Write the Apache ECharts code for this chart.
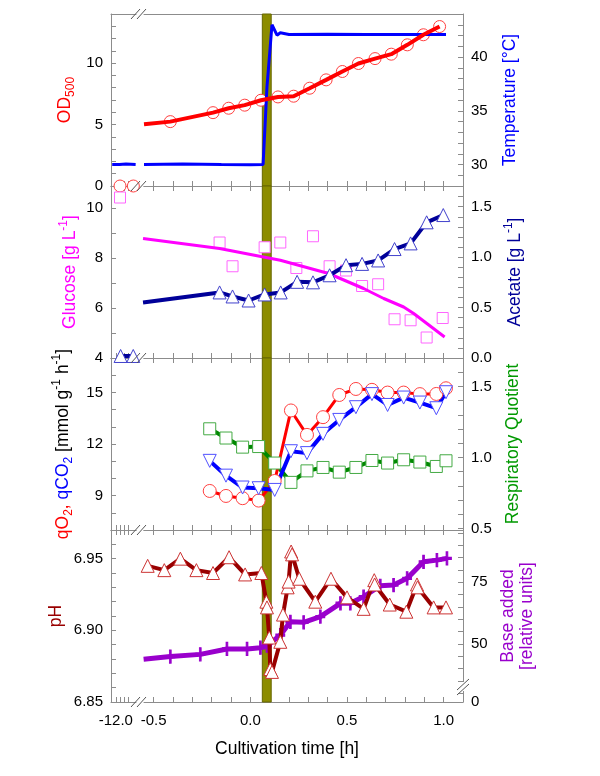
<!DOCTYPE html>
<html>
<head>
<meta charset="utf-8">
<script src="https://cdn.jsdelivr.net/npm/echarts@6/dist/echarts.min.js"></script>
<style>
  html, body { margin: 0; background: #fff; }
  #chart { width: 600px; height: 776px; }
</style>
</head>
<body>
<div id="chart"></div>
<script>
// ---- x axis (two segments: pre-culture at -12 h, main culture)
const preTicks = [-12.0, -11.967, -11.933, -11.9];
const preLabels = [-12.0];
const mainTicks = [-0.5, -0.4, -0.3, -0.2, -0.1, 0, 0.1, 0.2, 0.3, 0.4, 0.5, 0.6, 0.7, 0.8, 0.9, 1.0];
const mainLabels = [-0.5, 0, 0.5, 1.0];
const band = [0.062, 0.108];

// ---- panel 1: OD500 / temperature
const odPreTime = [-11.965, -11.854];
const odPre = [0, 0];
const odStart = [-0.55, 5.03];
const odTime = [-0.414, -0.193, -0.112, -0.029, 0.055, 0.143, 0.224, 0.307, 0.392, 0.476, 0.559, 0.645, 0.729, 0.812, 0.895, 0.979];
const od = [5.24, 5.97, 6.33, 6.58, 6.98, 7.25, 7.31, 7.96, 8.64, 9.32, 9.97, 10.37, 10.73, 11.49, 12.31, 12.98];
const tempPreTime = [-12.03, -11.97, -11.915, -11.835];
const tempPre = [30.0, 30.0, 30.05, 30.0];
const tempTime = [-0.55, -0.35, -0.15, 0.0, 0.066, 0.086, 0.112, 0.138, 0.155, 0.2, 0.4, 0.6, 0.8, 1.012];
const temp = [30.0, 30.05, 30.0, 29.98, 30.0, 37.2, 43.0, 42.03, 42.25, 42.1, 42.12, 42.1, 42.1, 42.1];

// ---- panel 2: glucose / acetate
const glcPreTime = [-11.965];
const glcPre = [10.42];
const glcTime = [-0.159, -0.092, 0.074, 0.155, 0.238, 0.324, 0.41, 0.495, 0.578, 0.661, 0.746, 0.829, 0.912, 0.995];
const glc = [8.62, 7.67, 8.43, 8.62, 7.6, 8.87, 7.67, 7.5, 6.88, 6.95, 5.55, 5.51, 4.82, 5.6];
const glcFitTime = [-0.555, -0.159, 0.155, 0.405, 0.586, 0.69, 0.793, 0.845, 1.005];
const glcFit = [8.78, 8.38, 7.91, 7.38, 6.78, 6.38, 6.04, 5.78, 4.84];
const acPreTime = [-11.96, -11.855];
const acPre = [0.02, 0.02];
const acStart = [-0.555, 0.55];
const acTime = [-0.159, -0.092, -0.009, 0.074, 0.157, 0.242, 0.324, 0.41, 0.495, 0.578, 0.661, 0.746, 0.829, 0.912, 0.998];
const ac = [0.65, 0.61, 0.57, 0.63, 0.65, 0.755, 0.75, 0.82, 0.92, 0.933, 0.967, 1.08, 1.136, 1.345, 1.417];

// ---- panel 3: qO2, qCO2 / RQ
const qTime = [-0.21, -0.126, -0.04, 0.043, 0.126, 0.21, 0.293, 0.376, 0.46, 0.546, 0.629, 0.71, 0.793, 0.877, 0.962, 1.012];
const qO2 = [9.27, 8.98, 8.85, 8.71, 9.85, 13.95, 12.53, 13.56, 14.85, 15.2, 15.15, 14.99, 14.99, 14.9, 14.91, 15.24];
const qCO2 = [11.02, 10.16, 9.47, 9.43, 9.33, 11.58, 11.47, 12.59, 13.4, 14.14, 14.9, 14.27, 14.7, 14.41, 14.08, 15.01];
const rq = [1.202, 1.137, 1.073, 1.077, 0.961, 0.825, 0.906, 0.93, 0.897, 0.93, 0.979, 0.961, 0.984, 0.968, 0.937, 0.977];

// ---- panel 4: pH / base added
const phTime = [-0.531, -0.445, -0.362, -0.279, -0.193, -0.11, -0.027, 0.057, 0.083, 0.086, 0.098, 0.103, 0.112,
  0.155, 0.169, 0.193, 0.198, 0.211, 0.216, 0.253, 0.336, 0.417, 0.5, 0.586, 0.641, 0.643, 0.721, 0.807, 0.862, 0.865, 0.948, 1.012];
const ph = [6.945, 6.942, 6.950, 6.942, 6.940, 6.951, 6.939, 6.940, 6.920, 6.916, 6.895, 6.873, 6.871,
  6.892, 6.911, 6.930, 6.934, 6.955, 6.953, 6.936, 6.920, 6.936, 6.923, 6.915, 6.935, 6.932, 6.918, 6.913, 6.932, 6.930, 6.916, 6.916];
const basePreTime = [-12.025, -12.0, -11.975, -11.95, -11.925, -11.9, -11.875, -11.85];
const basePre = [0, 0, 0, 0, 0, 0, 0, 0];
const baseTime = [-0.552, -0.414, -0.259, -0.121, -0.017, 0.052, 0.086, 0.155, 0.207, 0.276, 0.362, 0.466, 0.517, 0.586, 0.672, 0.741, 0.811, 0.896, 0.965, 1.017];
const base = [43.8, 44.9, 45.8, 48.0, 48.0, 48.5, 49.3, 53.6, 59.0, 58.8, 61.1, 66.5, 66.5, 69.2, 73.6, 73.9, 76.6, 83.3, 84.0, 84.7];

// ---- layout
const font = '"Liberation Sans", Arial, sans-serif';
const gray = '#8c8c8c';
const PANEL_TOP = [14, 186, 358, 530];
const PANEL_H = 172;
const SEG_L = 111, SEG_W = 25, MAIN_L = 144, MAIN_W = 319;
const preMin = -12.04, preMax = -11.832;
const mainMin = -0.55, mainMax = 1.1;
const TITLE = 17.5, SMALL = 12;

function steps(a, b, s) {
  const out = [];
  for (let v = a; v <= b + s / 1000; v += s) out.push(Math.round(v * 1000) / 1000);
  return out;
}
const zip = (xs, ys) => xs.map((x, k) => [x, ys[k]]);

function rich(c) {
  return {
    n: { color: c, fontSize: TITLE, fontFamily: font, lineHeight: 24, verticalAlign: 'middle' },
    sub: { color: c, fontSize: SMALL, fontFamily: font, lineHeight: 12, verticalAlign: 'bottom' },
    sup: { color: c, fontSize: SMALL, fontFamily: font, lineHeight: 12, verticalAlign: 'top' }
  };
}
const richQ = {
  r: { color: '#ff0000', fontSize: TITLE, fontFamily: font, lineHeight: 24, verticalAlign: 'middle' },
  rs: { color: '#ff0000', fontSize: SMALL, fontFamily: font, lineHeight: 12, verticalAlign: 'bottom' },
  b: { color: '#0000ff', fontSize: TITLE, fontFamily: font, lineHeight: 24, verticalAlign: 'middle' },
  bs: { color: '#0000ff', fontSize: SMALL, fontFamily: font, lineHeight: 12, verticalAlign: 'bottom' },
  k: { color: '#000', fontSize: TITLE, fontFamily: font, lineHeight: 24, verticalAlign: 'middle' },
  ks: { color: '#000', fontSize: SMALL, fontFamily: font, lineHeight: 12, verticalAlign: 'top' }
};

const leftCfg = [
  { min: 0, max: 14, ticks: steps(0, 14, 1), labels: [0, 5, 10], fmt: v => String(v),
    name: '{n|OD}{sub|500}', rich: rich('#ff0000'), gap: 34 },
  { min: 4, max: 10.88, ticks: steps(4, 10, 1), labels: [4, 6, 8, 10], fmt: v => String(v),
    name: '{n|Glucose [g L}{sup|-1}{n|]}', rich: rich('#ff00ff'), gap: 29 },
  { min: 7, max: 17, ticks: steps(7, 17, 1), labels: [9, 12, 15], fmt: v => String(v),
    name: '{r|qO}{rs|2}{r|, }{b|qCO}{bs|2}{k| [mmol g}{ks|-1}{k| h}{ks|-1}{k|]}', rich: richQ, gap: 36 },
  { min: 6.85, max: 6.97, ticks: steps(6.85, 6.97, 0.01), labels: [6.85, 6.90, 6.95], fmt: v => v.toFixed(2),
    name: '{n|pH}', rich: rich('#990000'), gap: 43 }
];
const rightCfg = [
  { min: 28, max: 44, ticks: steps(29, 43, 1), labels: [30, 35, 40], fmt: v => String(v),
    name: '{n|Temperature [°C]}', rich: rich('#0000ff'), gap: 35 },
  { min: 0, max: 1.705, ticks: steps(0, 1.7, 0.1), labels: [0, 0.5, 1.0, 1.5], fmt: v => v.toFixed(1),
    name: '{n|Acetate [g L}{sup|-1}{n|]}', rich: rich('#000099'), gap: 40 },
  { min: 0.49, max: 1.7, ticks: steps(0.5, 1.7, 0.1), labels: [0.5, 1.0, 1.5], fmt: v => v.toFixed(1),
    name: '{n|Respiratory Quotient}', rich: rich('#009900'), gap: 38 },
  { min: 26.5, max: 96.2, ticks: steps(30, 95, 5), labels: [26.5, 50, 75], fmt: v => (v < 30 ? '0' : String(v)),
    name: '{n|Base added}\n{n|[relative units]}', rich: {
      n: { color: '#9900cc', fontSize: TITLE, fontFamily: font, lineHeight: 19 } }, gap: 36 }
];

const grids = [], xAxes = [], yAxes = [], series = [];

function xAxisDef(gridIndex, position, min, max, ticks, labels, showTicks, showLabels) {
  return {
    type: 'value', gridIndex, position, min, max,
    axisLine: { show: true, onZero: false, lineStyle: { color: gray } },
    axisTick: { show: showTicks, inside: true, length: 5, customValues: ticks, lineStyle: { color: gray } },
    axisLabel: { show: showLabels, customValues: labels, margin: 11, color: '#000', fontSize: 15,
      fontFamily: font, formatter: v => v.toFixed(1) },
    splitLine: { show: false }
  };
}
function yAxisDef(gridIndex, position, cfg, visible) {
  return {
    type: 'value', gridIndex, position, min: cfg.min, max: cfg.max, show: visible,
    axisLine: { show: true, onZero: false, lineStyle: { color: gray } },
    axisTick: { show: true, inside: true, length: 5, customValues: cfg.ticks, lineStyle: { color: gray } },
    axisLabel: { customValues: cfg.labels, margin: 8, color: '#000', fontSize: 15, fontFamily: font, formatter: cfg.fmt },
    splitLine: { show: false },
    name: visible ? cfg.name : '', nameLocation: 'middle', nameRotate: 90, nameGap: cfg.gap,
    nameTextStyle: { rich: cfg.rich, fontFamily: font, fontSize: TITLE }
  };
}

PANEL_TOP.forEach((top, i) => {
  grids.push({ left: SEG_L, top, width: SEG_W, height: PANEL_H, containLabel: false });
  grids.push({ left: MAIN_L, top, width: MAIN_W, height: PANEL_H, containLabel: false });
  const last = i === 3;
  xAxes.push(xAxisDef(2 * i, 'bottom', preMin, preMax, preTicks, preLabels, true, last));
  xAxes.push(xAxisDef(2 * i, 'top', preMin, preMax, preTicks, [], i > 0, false));
  const mx = xAxisDef(2 * i + 1, 'bottom', mainMin, mainMax, mainTicks, mainLabels, true, last);
  if (last) {
    mx.name = 'Cultivation time [h]';
    mx.nameLocation = 'middle';
    mx.nameGap = 38;
    mx.nameTextStyle = { fontSize: TITLE, fontFamily: font, color: '#000', padding: [0, 33, 0, 0] };
  }
  xAxes.push(mx);
  xAxes.push(xAxisDef(2 * i + 1, 'top', mainMin, mainMax, mainTicks, [], i > 0, false));
  yAxes.push(yAxisDef(2 * i, 'left', leftCfg[i], true));
  yAxes.push(yAxisDef(2 * i, 'right', rightCfg[i], false));
  yAxes.push(yAxisDef(2 * i + 1, 'left', leftCfg[i], false));
  yAxes.push(yAxisDef(2 * i + 1, 'right', rightCfg[i], true));
});

const onPre = (i, side) => ({ xAxisIndex: 4 * i, yAxisIndex: 4 * i + (side === 'r' ? 1 : 0) });
const onMain = (i, side) => ({ xAxisIndex: 4 * i + 2, yAxisIndex: 4 * i + (side === 'r' ? 3 : 2) });
const bandArea = {
  silent: true,
  itemStyle: { color: '#8c8c00', borderColor: '#666600', borderWidth: 1, opacity: 1 },
  data: [[{ xAxis: band[0] }, { xAxis: band[1] }]]
};

function lineS(pos, data, color, width, sym) {
  return Object.assign({
    type: 'line', data, showSymbol: !!sym, symbol: sym ? sym.shape : 'none',
    symbolSize: sym ? sym.size : 0, symbolRotate: sym && sym.rotate ? sym.rotate : 0,
    lineStyle: { color, width },
    itemStyle: sym ? { color: '#fff', borderColor: sym.edge, borderWidth: 1 } : { color },
    emphasis: { disabled: true }
  }, pos);
}
function dotS(pos, data, shape, size, edge, fill) {
  return Object.assign({
    type: 'scatter', data, symbol: shape, symbolSize: size,
    itemStyle: { color: fill || '#fff', borderColor: edge, borderWidth: 1, opacity: 1 },
    emphasis: { disabled: true }
  }, pos);
}
const noSym = p => ({ value: p, symbol: 'none' });
const plus = 'path://M4,0L6,0L6,5L10,5L10,7L6,7L6,12L4,12L4,7L0,7L0,5L4,5Z';

// panel 1
const t1 = lineS(onMain(0, 'r'), zip(tempTime, temp), '#0000ff', 3);
t1.markArea = bandArea;
series.push(t1);
series.push(lineS(onMain(0, 'l'), [odStart].concat(zip(odTime, od)), '#ff0000', 4));
series.push(dotS(onMain(0, 'l'), zip(odTime, od), 'circle', 12, '#ff4040'));
series.push(lineS(onPre(0, 'r'), zip(tempPreTime, tempPre), '#0000ff', 3));
series.push(dotS(onPre(0, 'l'), zip(odPreTime, odPre), 'circle', 12, '#ff4040'));

// panel 2
const g1 = lineS(onMain(1, 'l'), zip(glcFitTime, glcFit), '#ff00ff', 3);
g1.markArea = bandArea;
series.push(g1);
series.push(lineS(onMain(1, 'r'), [noSym(acStart)].concat(zip(acTime, ac)), '#000099', 4,
  { shape: 'triangle', size: 13, edge: '#4040cc' }));
series.push(dotS(onMain(1, 'l'), zip(glcTime, glc), 'rect', 11, '#ff66ff'));
series.push(dotS(onPre(1, 'l'), zip(glcPreTime, glcPre), 'rect', 11, '#ff66ff'));
series.push(lineS(onPre(1, 'r'), zip(acPreTime, acPre), '#000099', 4,
  { shape: 'triangle', size: 13, edge: '#4040cc' }));

// panel 3
const q1 = lineS(onMain(2, 'r'), zip(qTime, rq), '#008800', 4, { shape: 'rect', size: 12, edge: '#44aa44' });
q1.markArea = bandArea;
series.push(q1);
series.push(lineS(onMain(2, 'l'), zip(qTime, qO2), '#ff0000', 3, { shape: 'circle', size: 13, edge: '#ff4040' }));
series.push(lineS(onMain(2, 'l'), zip(qTime, qCO2), '#0000ff', 4, { shape: 'triangle', size: 13, edge: '#5050ff', rotate: 180 }));

// panel 4
const b1 = lineS(onMain(3, 'r'), zip(baseTime, base), '#9900cc', 5);
b1.markArea = bandArea;
series.push(b1);
series.push(dotS(onMain(3, 'r'), zip(baseTime, base), plus, [9, 13], '#9900cc', '#9900cc'));
series.push(lineS(onMain(3, 'l'), zip(phTime, ph), '#990000', 4, { shape: 'triangle', size: 13, edge: '#cc3333' }));
series.push(lineS(onPre(3, 'r'), zip(basePreTime, basePre), '#9900cc', 5));
series.push(dotS(onPre(3, 'r'), zip(basePreTime, basePre), 'rect', 8, '#9900cc', '#9900cc'));

// axis break marks
const breakY = [14, 186, 358, 530, 702];
const graphic = [];
breakY.forEach(y => {
  graphic.push({ type: 'line', shape: { x1: 131, y1: y + 5, x2: 140, y2: y - 5 }, style: { stroke: '#555', lineWidth: 1 }, z: 100 });
  graphic.push({ type: 'line', shape: { x1: 137, y1: y + 5, x2: 146, y2: y - 5 }, style: { stroke: '#555', lineWidth: 1 }, z: 100 });
});
graphic.push({ type: 'rect', shape: { x: 459, y: 682, width: 8, height: 9 }, style: { fill: '#fff' }, z: 100 });
graphic.push({ type: 'line', shape: { x1: 457, y1: 690, x2: 469, y2: 679 }, style: { stroke: '#555', lineWidth: 1 }, z: 101 });
graphic.push({ type: 'line', shape: { x1: 457, y1: 695, x2: 469, y2: 684 }, style: { stroke: '#555', lineWidth: 1 }, z: 101 });

const chart = echarts.init(document.getElementById('chart'));
chart.setOption({
  animation: false,
  backgroundColor: '#fff',
  textStyle: { fontFamily: font },
  grid: grids,
  xAxis: xAxes,
  yAxis: yAxes,
  series,
  graphic
});
</script>
</body>
</html>
